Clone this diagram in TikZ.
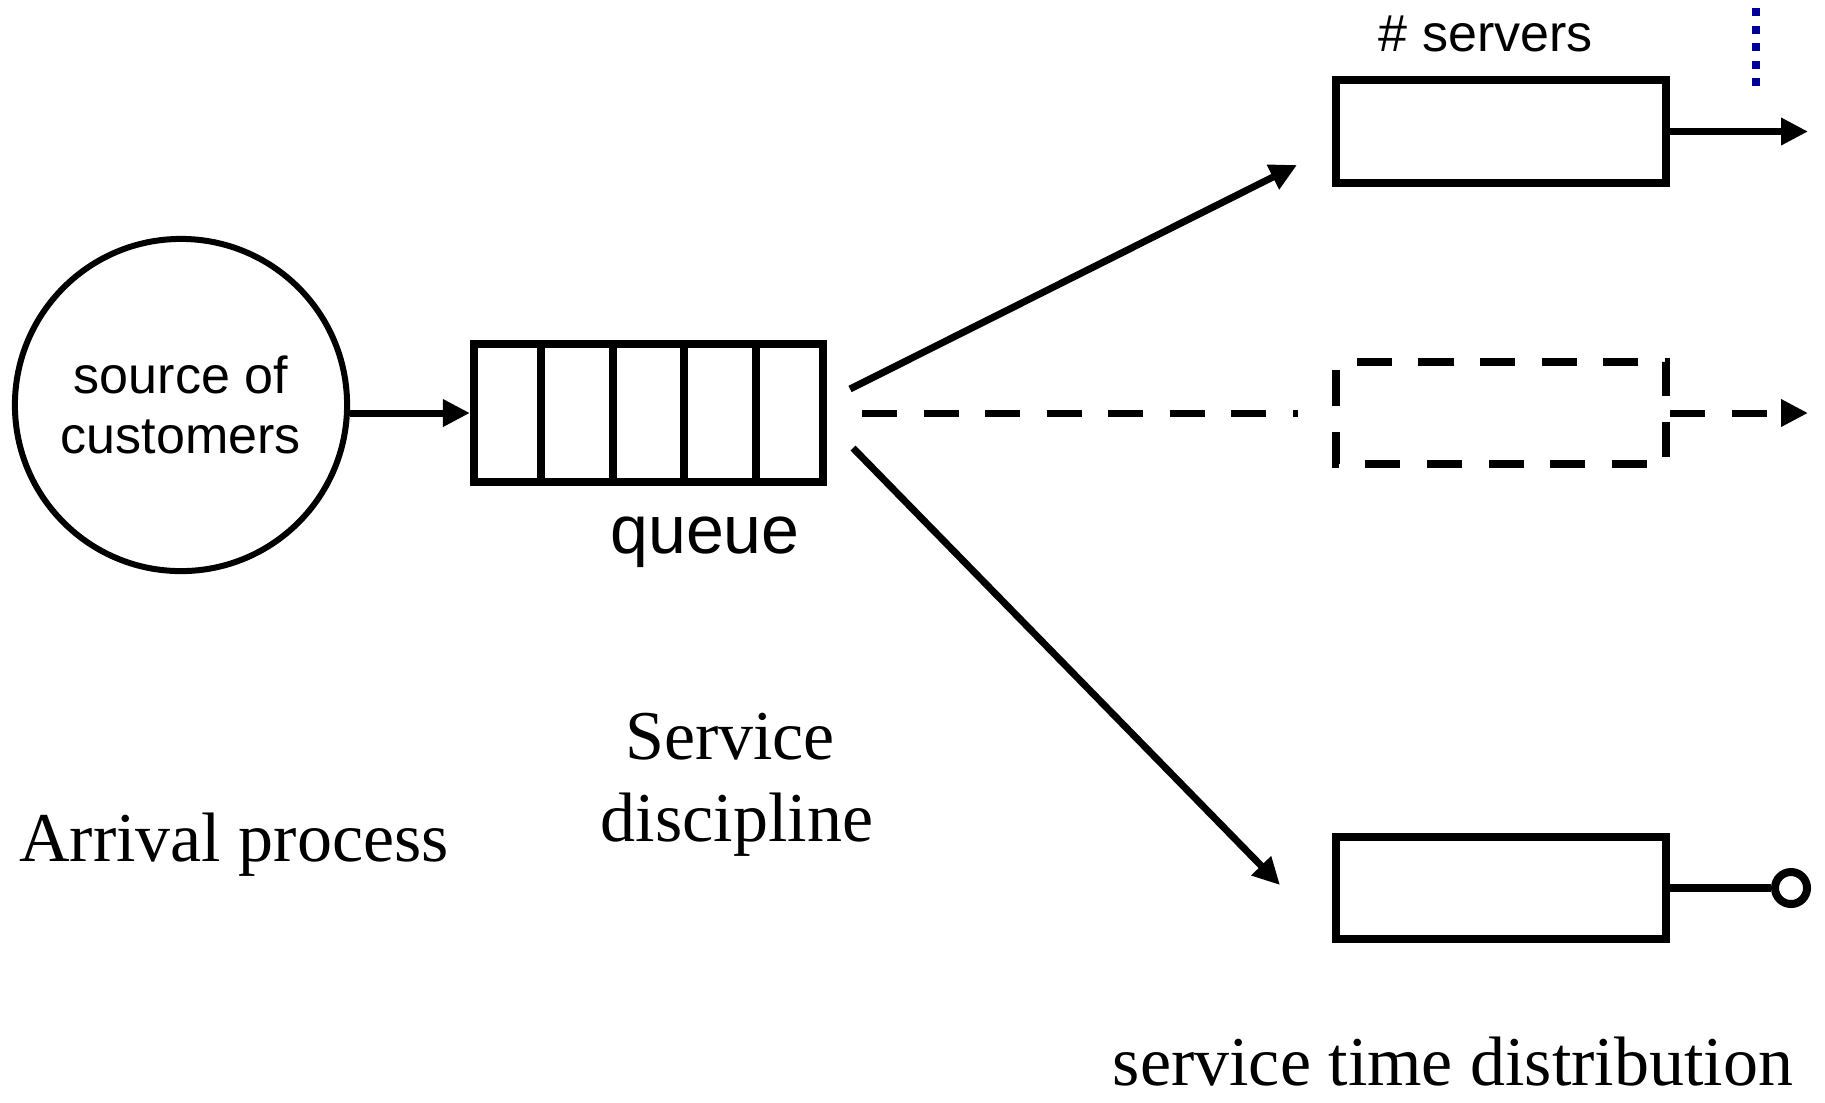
\documentclass[tikz,border=0pt]{standalone}
\usepackage{fontspec}
\setmainfont{Liberation Serif}
\newfontfamily\arialfont{Liberation Sans}
\usetikzlibrary{arrows.meta,calc}
\definecolor{dotblue}{RGB}{0,0,153}

\begin{document}
\begin{tikzpicture}[x=0.01cm,y=-0.01cm,
  box/.style={draw, line width=0.08cm, minimum width=3.30cm, minimum height=1.02cm, inner sep=0pt},
  link/.style={line width=0.07cm, -{Triangle[length=0.27cm,width=0.26cm]}},
  dashline/.style={dash pattern=on 0.35cm off 0.265cm},
  sanslabel/.style={font=\arialfont\fontsize{14.8pt}{17.07pt}\selectfont, inner sep=0pt},
  seriflabel/.style={font=\fontsize{19.9pt}{23.3pt}\selectfont, inner sep=0pt}
]
\useasboundingbox (0,0) rectangle (1825,1102);

% source, queue and the three servers
\node[circle, draw, line width=0.06cm, minimum size=3.32cm, inner sep=0pt,
      align=center, sanslabel] (src) at (181,405) {source of\\customers};
\node[box, minimum width=3.49cm, minimum height=1.38cm] (q) at (648.5,413) {};
\foreach \k in {1,...,4}
  \draw[line width=0.08cm] ($(q.north west)!\k/5!(q.north east)$) -- ($(q.south west)!\k/5!(q.south east)$);

\node[box] (s1) at (1501,131.5) {};
\node[box, draw=none, outer sep=0pt] (s2) at (1501,413) {};
\draw[line width=0.08cm, dashline, dash phase=0.405cm]
  (s2.north west) -- (s2.north east) -- (s2.south east) -- (s2.south west) -- cycle;
\node[box] (s3) at (1501,888) {};
\node[circle, draw, line width=0.08cm, minimum size=0.32cm, inner sep=0pt] (term) at (1791,888) {};

% free ends of the connectors
\coordinate (upStart) at (850,389);
\coordinate (upEnd) at (1297,165);
\coordinate (midStart) at (862,413);
\coordinate (midEnd) at (1298,413);
\coordinate (lowStart) at (853,448);
\coordinate (lowEnd) at (1280,885);
\coordinate (out1) at (1808,131.5);
\coordinate (out2) at (1808,413);
\coordinate (dotA) at (1756,8);
\coordinate (dotB) at (1756,87);

% connectors
\draw[link] (src.east |- q.west) -- (q.west);
\draw[link] (upStart) -- (upEnd);
\draw[line width=0.07cm, dashline] (midStart) -- (midEnd);
\draw[link] (lowStart) -- (lowEnd);
\draw[link] (s1.east) -- (out1);
\draw[link, dashline, dash phase=0.575cm] (s2.east) -- (out2);
\draw[line width=0.08cm] (s3.east) -- (term.west);
\draw[line width=0.08cm, draw=dotblue, dash pattern=on 0.08cm off 0.095cm] (dotA) -- (dotB);

% labels
\node[sanslabel, anchor=base west] (servers) at (1378,51) {\# servers};
\node[anchor=base, inner sep=0pt, font=\arialfont\fontsize{19.35pt}{22pt}\selectfont] (qlabel) at (705,553) {queue};
\node[seriflabel, anchor=base] (arrival) at (234,861) {Arrival process};
\node[seriflabel, anchor=base] (svc1) at (730,759) {Service};
\node[seriflabel, anchor=base] (svc2) at (737,841) {discipline};
\node[seriflabel, anchor=base] (stime) at (1453,1085) {service time distribution};
\end{tikzpicture}
\end{document}
